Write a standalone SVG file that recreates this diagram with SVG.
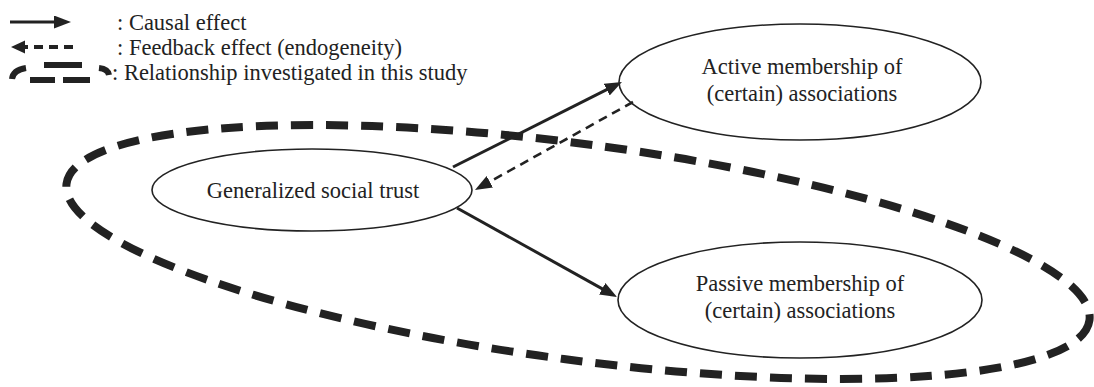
<svg xmlns="http://www.w3.org/2000/svg" width="1094" height="387" viewBox="0 0 1094 387">
  <style>
    text { font-family: "Liberation Serif", "DejaVu Serif", serif; font-size: 22.5px; fill: #222; }
    .node { fill: #fff; stroke: #222; stroke-width: 1.6; }
    .causal { stroke: #222; stroke-width: 3; fill: none; }
    .feedback { stroke: #222; stroke-width: 2.6; fill: none; stroke-dasharray: 9 6; }
    .key-feedback { stroke: #222; stroke-width: 4; fill: none; stroke-dasharray: 9 6; }
    .scope { stroke: #222; stroke-width: 8; fill: none; stroke-dasharray: 22 13; }
  </style>
  <defs>
    <marker id="head" markerUnits="userSpaceOnUse" markerWidth="17" markerHeight="13" refX="11" refY="6.5" orient="auto">
      <path d="M0,0 L17,6.5 L0,13 z" fill="#222"/>
    </marker>
  </defs>

  <rect width="1094" height="387" fill="#fff"/>

  <!-- legend -->
  <g id="legend">
    <line class="causal" x1="10" y1="22" x2="65" y2="22" marker-end="url(#head)"/>
    <text x="117" y="30">: Causal effect</text>
    <line class="key-feedback" x1="73" y1="47" x2="24" y2="47"/>
    <path d="M11,47 L25,40.5 L25,53.5 z" fill="#222"/>
    <text x="117" y="55">: Feedback effect (endogeneity)</text>
    <g stroke="#222" stroke-width="6" fill="none">
      <path d="M12,79 Q13,70 26,68"/>
      <path d="M44,65 L82,65"/>
      <path d="M30,80 L55,80"/>
      <path d="M63,80 L90,80"/>
      <path d="M99,68 Q108,69 109,75"/>
    </g>
    <text x="112" y="80">: Relationship investigated in this study</text>
  </g>

  <!-- scope of the study -->
  <g id="scope">
    <ellipse class="scope" cx="578" cy="252" rx="516" ry="108" transform="rotate(7.6 578 252)"/>
  </g>

  <!-- nodes -->
  <g id="trust">
    <ellipse class="node" cx="312" cy="190" rx="160" ry="41"/>
    <text x="313" y="198" text-anchor="middle">Generalized social trust</text>
  </g>
  <g id="active">
    <ellipse class="node" cx="800" cy="82" rx="181" ry="58"/>
    <text x="802" y="74" text-anchor="middle">Active membership of</text>
    <text x="802" y="101" text-anchor="middle">(certain) associations</text>
  </g>
  <g id="passive">
    <ellipse class="node" cx="800" cy="300" rx="182" ry="58"/>
    <text x="800" y="291" text-anchor="middle">Passive membership of</text>
    <text x="800" y="318" text-anchor="middle">(certain) associations</text>
  </g>

  <!-- connectors -->
  <g id="connectors">
    <line class="causal" x1="453" y1="167" x2="616.6" y2="84.7" marker-end="url(#head)"/>
    <line class="feedback" x1="633" y1="102" x2="480.2" y2="187.1" marker-end="url(#head)"/>
    <line class="causal" x1="457" y1="208" x2="611.8" y2="294.1" marker-end="url(#head)"/>
  </g>
</svg>
